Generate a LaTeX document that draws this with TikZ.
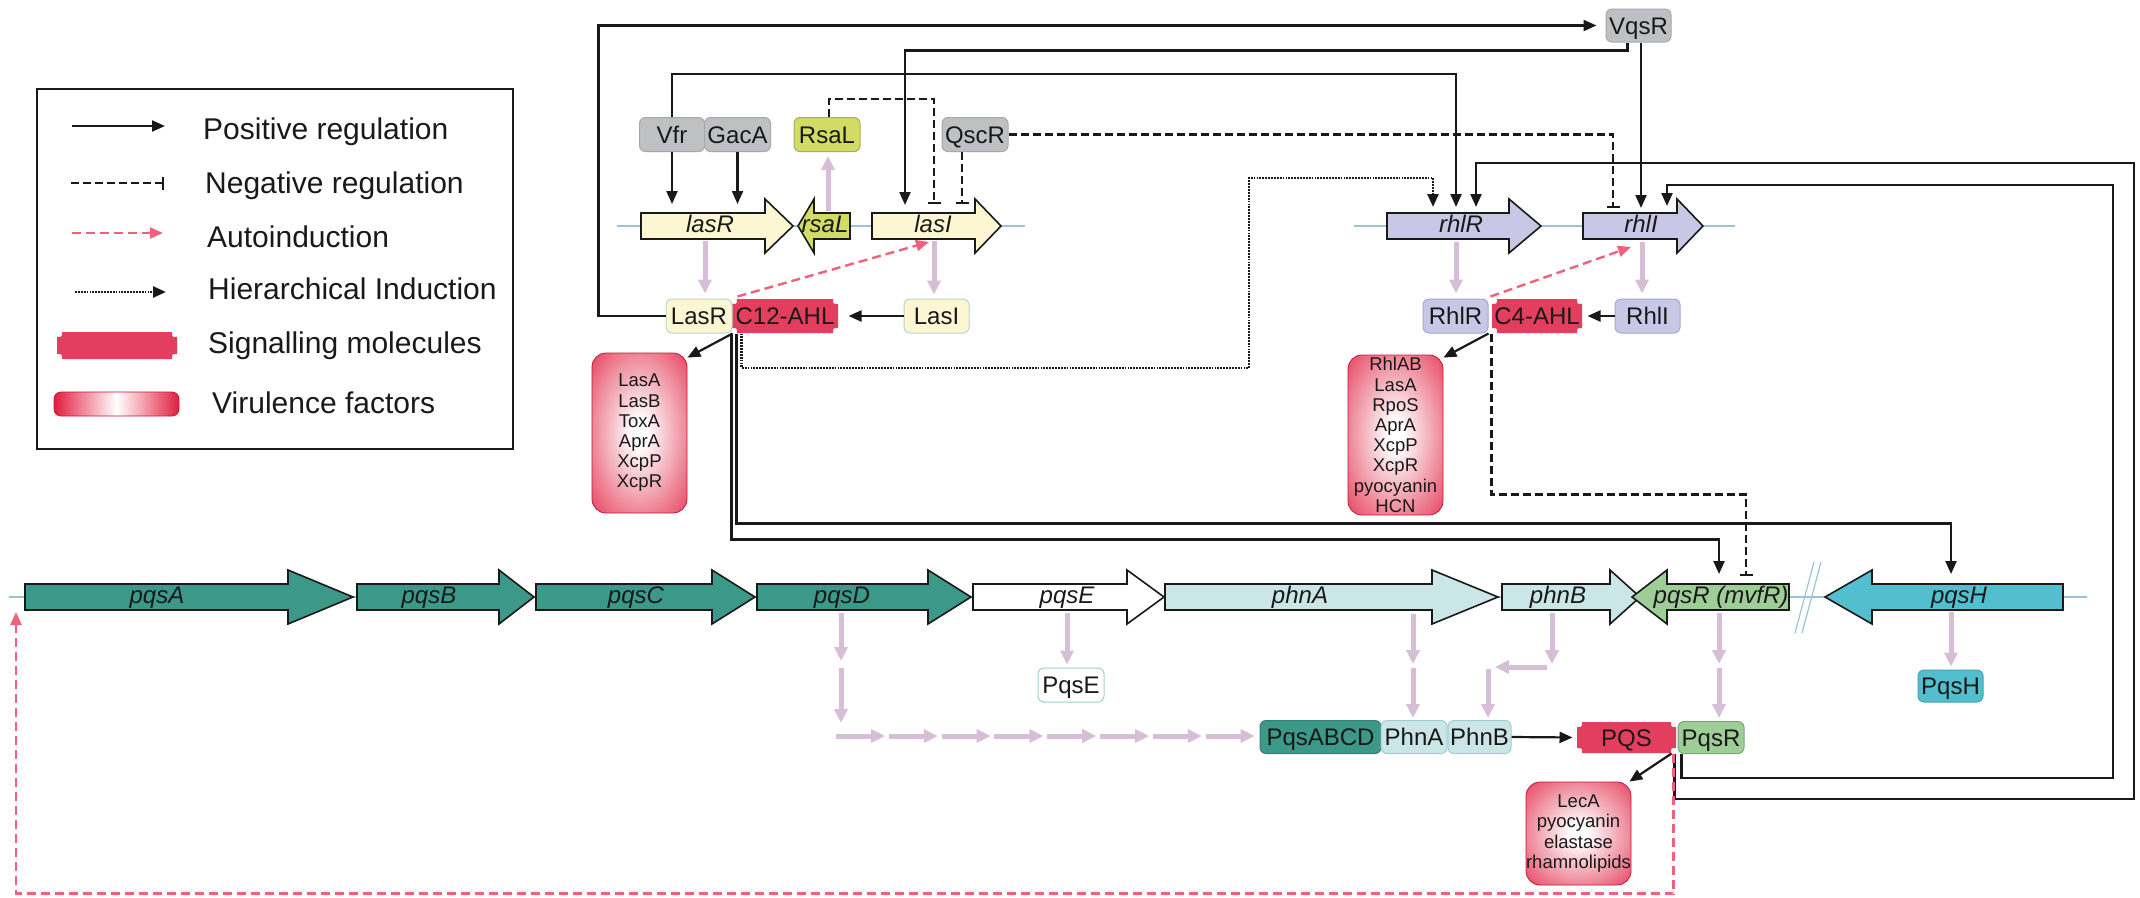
\documentclass[tikz,border=0pt]{standalone}
\usepackage{fontspec}
\setmainfont{Liberation Sans}
\usetikzlibrary{arrows.meta,calc}

\definecolor{ink}{RGB}{25,25,25}
\definecolor{greyfill}{RGB}{190,192,194}
\definecolor{greyline}{RGB}{165,167,170}
\definecolor{rsalfill}{RGB}{210,219,100}
\definecolor{lasfill}{RGB}{252,247,210}
\definecolor{lasline}{RGB}{184,214,206}
\definecolor{sigred}{RGB}{228,62,94}
\definecolor{virred}{RGB}{226,30,64}
\definecolor{virmid}{RGB}{240,150,165}
\definecolor{rhlfill}{RGB}{201,199,230}
\definecolor{rhlline}{RGB}{165,165,205}
\definecolor{pqsteal}{RGB}{60,152,136}
\definecolor{phnfill}{RGB}{202,230,230}
\definecolor{phnline}{RGB}{160,205,210}
\definecolor{pqsrfill}{RGB}{158,205,152}
\definecolor{pqshfill}{RGB}{82,190,206}
\definecolor{geneln}{RGB}{150,198,214}
\definecolor{transcol}{RGB}{214,190,214}
\definecolor{autopink}{RGB}{240,98,124}

\pgfdeclareradialshading{virshade}{\pgfpoint{0bp}{0bp}}{color(0bp)=(white); color(4bp)=(white); color(22bp)=(virmid); color(42bp)=(virred); color(75bp)=(virred)}

% right- and left-pointing gene arrows: start, head base, tip/end, axis y, fill
\newcommand{\genR}[5]{\draw[gene, fill=#5] (#1,#4-13) -- (#2,#4-13) -- (#2,#4-27) -- (#3,#4) -- (#2,#4+27) -- (#2,#4+13) -- (#1,#4+13) -- cycle;}
\newcommand{\genL}[5]{\draw[gene, fill=#5] (#3,#4-13) -- (#2,#4-13) -- (#2,#4-27) -- (#1,#4) -- (#2,#4+27) -- (#2,#4+13) -- (#3,#4+13) -- cycle;}
% signalling molecule outline with notched corners: centre x, centre y, width, height
\newcommand{\sigshape}[4]{\fill[sigred] (#1-#3/2+5,#2-#4/2) -- (#1+#3/2-5,#2-#4/2) .. controls (#1+#3/2-5,#2-#4/2+5) .. (#1+#3/2,#2-#4/2+5) -- (#1+#3/2,#2+#4/2-5) .. controls (#1+#3/2-5,#2+#4/2-5) .. (#1+#3/2-5,#2+#4/2) -- (#1-#3/2+5,#2+#4/2) .. controls (#1-#3/2+5,#2+#4/2-5) .. (#1-#3/2,#2+#4/2-5) -- (#1-#3/2,#2-#4/2+5) .. controls (#1-#3/2+5,#2-#4/2+5) .. (#1-#3/2+5,#2-#4/2) -- cycle;}

\tikzset{
  gene/.style={draw=ink, line width=1.6pt, line join=miter},
  geneaxis/.style={draw=geneln, line width=1.2pt},
  genelbl/.style={font=\fontsize{24}{28}\selectfont\itshape, text=ink, text height=17pt, text depth=4pt, inner sep=0pt},
  prot/.style={rounded corners=6pt, line width=1pt, minimum height=34pt, inner sep=0pt, font=\fontsize{24}{28}\selectfont, text=ink, text height=17pt, text depth=0pt},
  greyprot/.style={prot, fill=greyfill, draw=greyline},
  lasprot/.style={prot, fill=lasfill, draw=lasline},
  rsalprot/.style={prot, fill=rsalfill, draw=rsalfill!80!black},
  rhlprot/.style={prot, fill=rhlfill, draw=rhlline},
  tealprot/.style={prot, fill=pqsteal, draw=pqsteal!85!black},
  phnprot/.style={prot, fill=phnfill, draw=phnline},
  pqsrprot/.style={prot, fill=pqsrfill, draw=pqsrfill!80!black},
  pqshprot/.style={prot, fill=pqshfill, draw=pqshfill!85!black},
  whiteprot/.style={prot, fill=white, draw=phnline},
  sigmol/.style={prot, rounded corners=0pt, draw=none, fill=none},
  virbox/.style={rounded corners=14pt, shade, shading=virshade, draw=virred!85!black, line width=0.8pt, font=\fontsize{18.5}{20.2}\selectfont, text=ink, align=center, inner sep=0pt},
  legtext/.style={anchor=west, font=\fontsize{30}{34}\selectfont, text=ink, text height=21.5pt, text depth=0pt, inner sep=0pt},
  posreg/.style={draw=ink, line width=2.2pt, -{Triangle[length=13pt,width=11pt]}},
  negreg/.style={draw=ink, line width=2.2pt, dash pattern=on 8pt off 4pt, -{Bar[width=13pt,line width=2.2pt]}},
  autoreg/.style={draw=autopink, line width=2.4pt, dash pattern=on 9pt off 5pt, -{Triangle[length=13pt,width=11pt]}},
  hierreg/.style={draw=ink, line width=2.6pt, dash pattern=on 1.8pt off 1.1pt, -{Triangle[length=13pt,width=11pt]}},
  trarrow/.style={draw=transcol, line width=5pt, -{Triangle[length=14pt,width=13pt]}}
}

\begin{document}
\begin{tikzpicture}[x=1pt,y=-1pt]
\useasboundingbox (0,0) rectangle (2140,897);
\fill[white] (0,0) rectangle (2140,897);

% ---------- legend ----------
\node[draw=ink, line width=2.5pt, minimum width=476pt, minimum height=360pt, inner sep=0pt] (legend) at (275,269) {};
\coordinate (lg1a) at (72,126);  \coordinate (lg1b) at (165,126);
\coordinate (lg2a) at (71,183);  \coordinate (lg2b) at (164,183);
\coordinate (lg3a) at (72,233);  \coordinate (lg3b) at (163,233);
\coordinate (lg4a) at (75,292);  \coordinate (lg4b) at (166,292);
\draw[posreg] (lg1a) -- (lg1b);
\draw[negreg] (lg2a) -- (lg2b);
\draw[autoreg] (lg3a) -- (lg3b);
\draw[hierreg] (lg4a) -- (lg4b);
\sigshape{117}{345.5}{120}{27}
\node[sigmol, minimum width=120pt, minimum height=27pt] (legsig) at (117,345.5) {};
\node[rounded corners=7pt, left color=virred, right color=virred, middle color=white, draw=virred!85!black, line width=0.8pt, minimum width=125pt, minimum height=24pt, inner sep=0pt] (legvir) at (116.5,404) {};
\node[legtext] (lt1) at (203,129) {Positive regulation};
\node[legtext] (lt2) at (205,183) {Negative regulation};
\node[legtext] (lt3) at (207,236.5) {Autoinduction};
\node[legtext] (lt4) at (208,289) {Hierarchical Induction};
\node[legtext] (lt5) at (208,343) {Signalling molecules};
\node[legtext] (lt6) at (212,402.5) {Virulence factors};

% ---------- gene axes ----------
\draw[geneaxis] (617,226) -- (1025,226);
\draw[geneaxis] (1354,226) -- (1735,226);
\draw[geneaxis] (9,597) -- (2087,597);
\draw[geneaxis] (1795,633) -- (1814,562);
\draw[geneaxis] (1802,633) -- (1821,562);

% ---------- las / rhl genes ----------
\genR{641}{765}{793}{226}{lasfill}
\genL{798}{814}{850}{226}{rsalfill}
\genR{872}{975}{1001}{226}{lasfill}
\genR{1387}{1509}{1541}{226}{rhlfill}
\genR{1583}{1677}{1703}{226}{rhlfill}
\node[genelbl] (g-lasR) at (710,226) {lasR};
\node[genelbl] (g-rsaL) at (825,226) {rsaL};
\node[genelbl] (g-lasI) at (933,226) {lasI};
\node[genelbl] (g-rhlR) at (1461,226) {rhlR};
\node[genelbl] (g-rhlI) at (1641,226) {rhlI};

% ---------- pqs operon and neighbours ----------
\genR{25}{288}{353}{597}{pqsteal}
\genR{357}{499}{534}{597}{pqsteal}
\genR{536}{712}{755}{597}{pqsteal}
\genR{757}{928}{971}{597}{pqsteal}
\genR{973}{1127}{1164}{597}{white}
\genR{1165}{1432}{1498}{597}{phnfill}
\genR{1502}{1610}{1640}{597}{phnfill}
\genL{1632}{1667}{1789}{597}{pqsrfill}
\genL{1825}{1872}{2063}{597}{pqshfill}
\node[genelbl] (g-pqsA) at (157,597) {pqsA};
\node[genelbl] (g-pqsB) at (429,597) {pqsB};
\node[genelbl] (g-pqsC) at (636,597) {pqsC};
\node[genelbl] (g-pqsD) at (842,597) {pqsD};
\node[genelbl] (g-pqsE) at (1067,597) {pqsE};
\node[genelbl] (g-phnA) at (1300,597) {phnA};
\node[genelbl] (g-phnB) at (1558,597) {phnB};
\node[genelbl] (g-pqsR) at (1721,597) {pqsR (mvfR)};
\node[genelbl] (g-pqsH) at (1959,597) {pqsH};

% ---------- regulators ----------
\node[greyprot, minimum width=65pt] (Vfr) at (672,134.5) {Vfr};
\node[greyprot, minimum width=66pt] (GacA) at (737.5,134.5) {GacA};
\node[rsalprot, minimum width=66pt] (RsaL) at (827,134.5) {RsaL};
\node[greyprot, minimum width=66pt] (QscR) at (975,134.5) {QscR};
\node[greyprot, minimum width=65pt, minimum height=33pt] (VqsR) at (1638.5,25.5) {VqsR};

% ---------- proteins and signals ----------
\sigshape{785}{316}{106}{34}
\node[sigmol, minimum width=106pt] (C12) at (785,316) {C12-AHL};
\node[lasprot, minimum width=66pt] (LasR) at (699,316) {LasR};
\node[lasprot, minimum width=65pt] (LasI) at (936.5,316) {LasI};
\sigshape{1537}{316}{90}{34}
\node[sigmol, minimum width=90pt] (C4) at (1537,316) {C4-AHL};
\node[rhlprot, minimum width=65pt] (RhlR) at (1455.5,316) {RhlR};
\node[rhlprot, minimum width=65pt] (RhlI) at (1647.5,316) {RhlI};
\node[whiteprot, minimum width=66pt] (PqsE) at (1071,685) {PqsE};
\node[tealprot, minimum width=121pt, minimum height=33pt] (PqsABCD) at (1320.5,737) {PqsABCD};
\node[phnprot, minimum width=66pt, minimum height=33pt] (PhnA) at (1414,737) {PhnA};
\node[phnprot, minimum width=63pt, minimum height=33pt] (PhnB) at (1479.5,737) {PhnB};
\sigshape{1626.5}{737.5}{99}{31}
\node[sigmol, minimum width=99pt, minimum height=31pt] (PQS) at (1626.5,737.5) {PQS};
\node[pqsrprot, minimum width=66pt, minimum height=32pt] (PqsR) at (1711,737.5) {PqsR};
\node[pqshprot, minimum width=65pt, minimum height=32pt] (PqsH) at (1950.5,686) {PqsH};

% ---------- virulence factors ----------
\node[virbox, minimum width=95pt, minimum height=160pt] (V1) at (639.5,433) {LasA\\LasB\\ToxA\\AprA\\XcpP\\XcpR};
\node[virbox, minimum width=95pt, minimum height=160pt] (V2) at (1395.5,435) {RhlAB\\LasA\\RpoS\\AprA\\XcpP\\XcpR\\pyocyanin\\HCN};
\node[virbox, minimum width=105pt, minimum height=103pt] (V3) at (1578.5,833.5) {LecA\\pyocyanin\\elastase\\rhamnolipids};

% ---------- arrow end points on genes ----------
\coordinate (lasRtipA) at (672,204);
\coordinate (lasRtipB) at (737.5,204);
\coordinate (lasItip) at (905,205);
\coordinate (lasIbarA) at (934,204);
\coordinate (lasIbarB) at (962,204);
\coordinate (lasIauto) at (929,242);
\coordinate (rhlRtipA) at (1433,207);
\coordinate (rhlRtipB) at (1456,207);
\coordinate (rhlRtipC) at (1476,207);
\coordinate (rhlIbar) at (1613,208);
\coordinate (rhlItipA) at (1641,208);
\coordinate (rhlItipB) at (1667,206);
\coordinate (rhlIauto) at (1631,247);
\coordinate (hierA) at (741.5,368);
\coordinate (hierB) at (1249,178);
\coordinate (loopA) at (2134,163);
\coordinate (loopB) at (2113,185);
\coordinate (pqsRtip) at (1719,574);
\coordinate (pqsRbar) at (1746,576);
\coordinate (pqsHtip) at (1951,574);
\coordinate (pqsAauto) at (16,612);

% ---------- translation arrows ----------
\coordinate (trA) at (705,241);
\coordinate (trB) at (828,211);
\coordinate (trC) at (934,241);
\coordinate (trD) at (1456,242);
\coordinate (trE) at (1642,242);
\draw[trarrow, shorten >=5pt] (trA) -- (trA |- LasR.north);
\draw[trarrow, shorten >=4pt] (trB) -- (trB |- RsaL.south);
\draw[trarrow, shorten >=4pt] (trC) -- (trC |- LasI.north);
\draw[trarrow, shorten >=5pt] (trD) -- (trD |- RhlR.north);
\draw[trarrow, shorten >=5pt] (trE) -- (trE |- RhlI.north);

\coordinate (tdA) at (841,613);
\coordinate (tdB) at (836,736);
\draw[trarrow] (tdA) -- ++(0,48);
\draw[trarrow] ($(tdA)+(0,55)$) -- ++(0,55);
\foreach \i in {0,...,7} \draw[trarrow] ($(tdB)+(\i*52.8,0)$) -- ++(49,0);
\coordinate (teA) at (1067,613);
\draw[trarrow, shorten >=3pt] (teA) -- (teA |- PqsE.north);
\coordinate (taA) at (1413,614);
\draw[trarrow] (taA) -- ++(0,50);
\draw[trarrow, shorten >=2pt] ($(taA)+(0,54)$) -- (taA |- PhnA.north);
\coordinate (tbA) at (1552,613);
\coordinate (tbB) at (1488,669);
\draw[trarrow] (tbA) -- ++(0,51);
\draw[trarrow] ($(tbA)+(-5,54)$) -- ++(-52,0);
\draw[trarrow, shorten >=2pt] (tbB) -- (tbB |- PhnB.north);
\coordinate (tpA) at (1719,613);
\draw[trarrow] (tpA) -- ++(0,51);
\draw[trarrow, shorten >=3pt] ($(tpA)+(0,55)$) -- (tpA |- PqsR.north);
\coordinate (thA) at (1951,612);
\draw[trarrow, shorten >=3pt] (thA) -- (thA |- PqsH.north);

% ---------- regulation ----------
\draw[posreg, shorten >=9pt] (LasR.west) -- ++(-67,0) |- (VqsR.west);
\draw[posreg] ([xshift=-11pt]VqsR.south) -- ++(0,8) -| (lasItip);
\draw[posreg] (Vfr.south) -- (lasRtipA);
\draw[posreg] (GacA.south) -- (lasRtipB);
\draw[posreg] (Vfr.north) -- ++(0,-43) -| (rhlRtipB);
\draw[negreg] ([xshift=2pt]RsaL.north) -- ++(0,-18) -| (lasIbarA);
\draw[negreg] ([xshift=-13pt]QscR.south) -- (lasIbarB);
\draw[negreg] (QscR.east) -| (rhlIbar);
\draw[posreg] ([xshift=2.5pt]VqsR.south) -- (rhlItipA);
\draw[hierreg] (C12.south -| hierA) -- (hierA) -| (hierB) -| (rhlRtipA);
\draw[posreg, shorten >=10pt] (LasI.west) -- (C12.east);
\draw[posreg] (LasR.south east) -- ([yshift=-5pt]V1.north east);
\draw[posreg] ([xshift=4pt]LasR.south east) -- ++(0,190) -| (pqsHtip);
\draw[posreg] ([xshift=-1pt]LasR.south east) -- ++(0,206) -| (pqsRtip);
\draw[autoreg] ([xshift=6pt,yshift=2pt]C12.north west) -- (lasIauto);
\draw[posreg] (RhlR.south east) -- ([yshift=-3pt]V2.north east);
\draw[negreg] ([xshift=3pt]RhlR.south east) -- ++(0,161) -| (pqsRbar);
\draw[posreg, shorten >=5pt] (RhlI.west) -- (C4.east);
\draw[autoreg] ([xshift=2pt,yshift=2pt]RhlR.north east) -- (rhlIauto);
\draw[posreg] ([xshift=-3pt]PqsR.south west) -- ++(0,45) -| (loopA) -| (rhlRtipC);
\draw[posreg] ([xshift=4pt]PqsR.south west) -- ++(0,24) -| (loopB) -| (rhlItipB);
\draw[posreg, shorten >=4pt] (PhnB.east) -- (PQS.west);
\draw[posreg] ([xshift=-5pt]PQS.south east) -- ([xshift=-2pt]V3.north east);
\draw[autoreg] ([xshift=-3pt]PQS.south east) -- ++(0,140) -| (pqsAauto);
\end{tikzpicture}
\end{document}
